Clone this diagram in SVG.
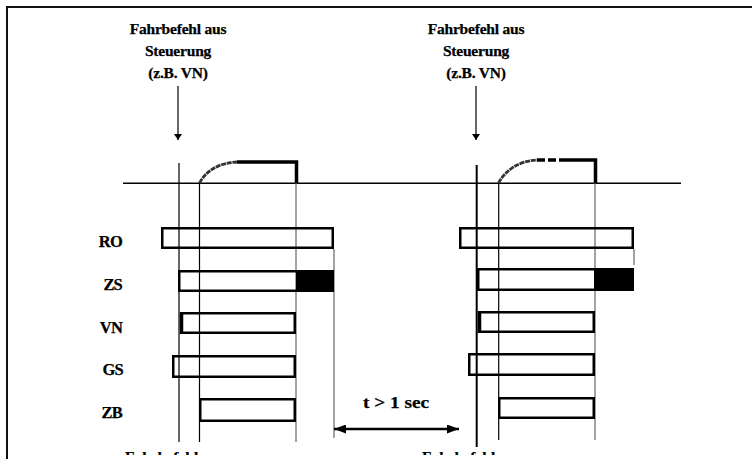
<svg xmlns="http://www.w3.org/2000/svg" width="752" height="459" viewBox="0 0 752 459">
<style>
.t{font-family:"Liberation Serif","Times New Roman",serif;font-weight:bold;fill:#000;stroke:#000;stroke-width:0.25}
.hd{font-size:15.5px;text-anchor:middle;letter-spacing:-0.2px}
.lb{font-size:16.5px;text-anchor:end;letter-spacing:-0.8px}
.box{fill:none;stroke:#000;stroke-width:2.5}
.v{stroke:#000;stroke-width:1.2;fill:none}
.vg{stroke:#666;stroke-width:1.2;fill:none}
.curve{fill:none;stroke:#333;stroke-width:2.8;stroke-dasharray:5 0.8}
.step{fill:none;stroke:#000;stroke-width:3.5}
</style>
<defs>
<marker id="ahs" viewBox="0 0 6 8" refX="6" refY="4" markerWidth="6" markerHeight="8" markerUnits="userSpaceOnUse" orient="auto">
<path d="M0,0 L6,4 L0,8 z" fill="#000"/>
</marker>
<marker id="ahd" viewBox="0 0 12 9" refX="12" refY="4.5" markerWidth="12" markerHeight="9" markerUnits="userSpaceOnUse" orient="auto-start-reverse">
<path d="M0,0 L12,4.5 L0,9 z" fill="#000"/>
</marker>
<clipPath id="clipb"><rect x="0" y="0" width="752" height="455"/></clipPath>
</defs>
<rect x="0" y="0" width="752" height="459" fill="#fff"/>
<g id="frame">
<path d="M7,459 V7 H752" fill="none" stroke="#111" stroke-width="2"/>
</g>

<g id="axis">
<line x1="123" y1="183.3" x2="681" y2="183.3" stroke="#000" stroke-width="1.6"/>
</g>

<g id="timing-left">
<line class="v" x1="179" y1="163" x2="179" y2="442"/>
<line class="v" x1="199.5" y1="183" x2="199.5" y2="442"/>
<line class="vg" x1="296" y1="183" x2="296" y2="442"/>
<line class="vg" x1="334" y1="249" x2="334" y2="438"/>
<path class="curve" d="M199.5,183 C206,171 218,163 237,162"/>
<path class="step" d="M237,162 H296.5 V183"/>
</g>

<g id="timing-right">
<line x1="476.7" y1="165" x2="476.7" y2="447" stroke="#000" stroke-width="2"/>
<line class="v" x1="498.7" y1="183" x2="498.7" y2="440"/>
<line class="vg" x1="595" y1="183" x2="595" y2="440"/>
<line class="vg" x1="634" y1="249" x2="634" y2="265"/>
<path class="curve" d="M498.5,183 C505,171 518,161 537,160"/>
<path d="M537,160 H565" fill="none" stroke="#000" stroke-width="3.5" stroke-dasharray="8 3"/>
<path class="step" d="M565,160 H595.5 V183"/>
</g>

<g id="header-left">
<text class="t hd" x="178" y="34">Fahrbefehl aus</text>
<text class="t hd" x="178" y="56">Steuerung</text>
<text class="t hd" x="178" y="78">(z.B. VN)</text>
</g>
<g id="header-right">
<text class="t hd" x="476" y="34">Fahrbefehl aus</text>
<text class="t hd" x="476" y="56">Steuerung</text>
<text class="t hd" x="476" y="78">(z.B. VN)</text>
</g>

<g id="labels">
<text class="t lb" x="122" y="247">RO</text>
<text class="t lb" x="122" y="290">ZS</text>
<text class="t lb" x="122" y="333">VN</text>
<text class="t lb" x="123" y="375">GS</text>
<text class="t lb" x="122" y="418">ZB</text>
</g>

<g id="RO-left"><rect class="box" x="162.25" y="228.25" width="170.5" height="19.5"/></g>
<g id="ZS-left"><rect x="296" y="270" width="38" height="22" fill="#000"/><rect class="box" x="179.25" y="271.25" width="153.5" height="19.5"/></g>
<g id="VN-left"><rect class="box" x="181.25" y="313.25" width="113.5" height="19.5"/><line x1="181.5" y1="312" x2="181.5" y2="334" stroke="#000" stroke-width="3.5"/></g>
<g id="GS-left"><rect class="box" x="173.25" y="356.25" width="121.5" height="20.5"/></g>
<g id="ZB-left"><rect class="box" x="200.25" y="399.25" width="94.5" height="21.5"/></g>

<g id="RO-right"><rect class="box" x="460.25" y="228.25" width="172.5" height="19.5"/></g>
<g id="ZS-right"><rect x="594" y="268" width="40" height="23" fill="#000"/><rect class="box" x="478.25" y="269.25" width="154.5" height="20.5"/></g>
<g id="VN-right"><rect class="box" x="479.25" y="312.25" width="114.5" height="19.5"/><line x1="479.5" y1="311" x2="479.5" y2="333" stroke="#000" stroke-width="3.5"/></g>
<g id="GS-right"><rect class="box" x="469.25" y="354.25" width="124.5" height="20.5"/></g>
<g id="ZB-right"><rect class="box" x="499.25" y="398.25" width="94.5" height="19.5"/></g>

<g id="connectors">
<line x1="178" y1="86" x2="178" y2="140" stroke="#000" stroke-width="1.2" marker-end="url(#ahs)"/>
<line x1="476" y1="86" x2="476" y2="140" stroke="#000" stroke-width="1.2" marker-end="url(#ahs)"/>
<line x1="334" y1="429" x2="459" y2="429" stroke="#000" stroke-width="2.5" marker-start="url(#ahd)" marker-end="url(#ahd)"/>
</g>
<g id="interval">
<text class="t" x="363" y="408" font-size="17.5" textLength="66" lengthAdjust="spacingAndGlyphs">t &gt; 1 sec</text>
</g>

<g id="footer" clip-path="url(#clipb)">
<text class="t" x="125" y="462" font-size="15.5">Fahrbefehl</text>
<text class="t" x="422" y="462" font-size="15.5">Fahrbefehl</text>
</g>
</svg>
